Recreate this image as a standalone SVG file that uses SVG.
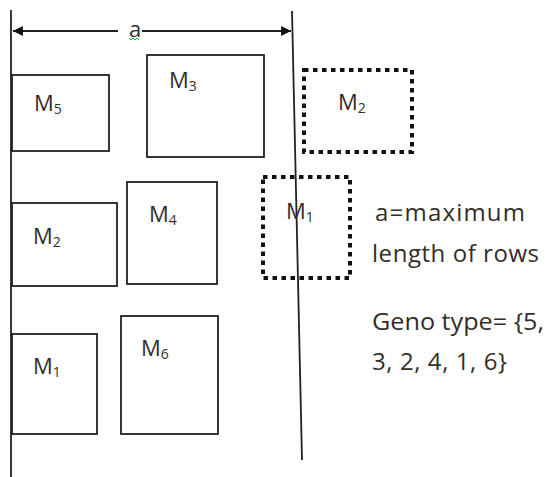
<svg xmlns="http://www.w3.org/2000/svg" width="547" height="477" viewBox="0 0 547 477">
  <style>
    .box { fill: none; stroke: #222; stroke-width: 1.8; }
    .dot { fill: none; stroke: #111; stroke-width: 4; stroke-dasharray: 4.5 4.5; }
    .line { fill: none; stroke: #222; stroke-width: 1.8; }
    .lbl { font-family: "Open Sans", "Liberation Sans", sans-serif; font-size: 22px; fill: #332e2a; }
    .sub { font-size: 14px; }
    .note { font-family: "Open Sans", "Liberation Sans", sans-serif; font-size: 24px; fill: #332e2a; }
  </style>
  <defs>
    <marker id="arrow" viewBox="0 0 10 10" refX="10" refY="5" markerWidth="6.5" markerHeight="5.5" orient="auto-start-reverse">
      <path d="M0,0 L10,5 L0,10 z" fill="#111"/>
    </marker>
  </defs>
  <rect width="547" height="477" fill="#fff"/>

  <!-- boundary lines and dimension arrow -->
  <g id="connectors">
    <line class="line" x1="11" y1="10" x2="11" y2="477"/>
    <line class="line" x1="292" y1="11" x2="302" y2="460"/>
    <line class="line" x1="13" y1="31" x2="118" y2="31" marker-start="url(#arrow)"/>
    <line class="line" x1="142" y1="31" x2="291" y2="31" marker-end="url(#arrow)"/>
  </g>

  <g id="dim-label">
    <text class="lbl" x="129" y="37" font-size="20">a</text>
    <path d="M129,38 l2,2 l2,-2 l2,2 l2,-2 l2,2" fill="none" stroke="#3a3" stroke-width="1"/>
  </g>

  <g id="m5">
    <rect class="box" x="12" y="75" width="97" height="76"/>
    <text class="lbl" x="34" y="111">M<tspan class="sub" dy="3">5</tspan></text>
  </g>
  <g id="m3">
    <rect class="box" x="147" y="55" width="117" height="102"/>
    <text class="lbl" x="169" y="88">M<tspan class="sub" dy="3">3</tspan></text>
  </g>
  <g id="m2-out">
    <rect class="dot" x="304" y="70" width="108" height="82"/>
    <text class="lbl" x="338" y="110">M<tspan class="sub" dy="3">2</tspan></text>
  </g>
  <g id="m2">
    <rect class="box" x="12" y="203" width="105" height="83"/>
    <text class="lbl" x="33" y="244">M<tspan class="sub" dy="3">2</tspan></text>
  </g>
  <g id="m4">
    <rect class="box" x="127" y="182" width="90" height="102"/>
    <text class="lbl" x="149" y="222">M<tspan class="sub" dy="3">4</tspan></text>
  </g>
  <g id="m1-out">
    <rect class="dot" x="263" y="177" width="87" height="101"/>
    <text class="lbl" x="286" y="219">M<tspan class="sub" dy="3">1</tspan></text>
  </g>
  <g id="m1">
    <rect class="box" x="12" y="334" width="85" height="100"/>
    <text class="lbl" x="33" y="374">M<tspan class="sub" dy="3">1</tspan></text>
  </g>
  <g id="m6">
    <rect class="box" x="121" y="316" width="97" height="118"/>
    <text class="lbl" x="141" y="356">M<tspan class="sub" dy="3">6</tspan></text>
  </g>

  <g id="notes">
    <text class="note" x="375" y="221" textLength="150" lengthAdjust="spacing">a=maximum</text>
    <text class="note" x="372" y="262" textLength="167" lengthAdjust="spacing">length of rows</text>
    <text class="note" x="372" y="330" textLength="172" lengthAdjust="spacingAndGlyphs">Geno type= {5,</text>
    <text class="note" x="372" y="370" textLength="135" lengthAdjust="spacing">3, 2, 4, 1, 6}</text>
  </g>
</svg>
